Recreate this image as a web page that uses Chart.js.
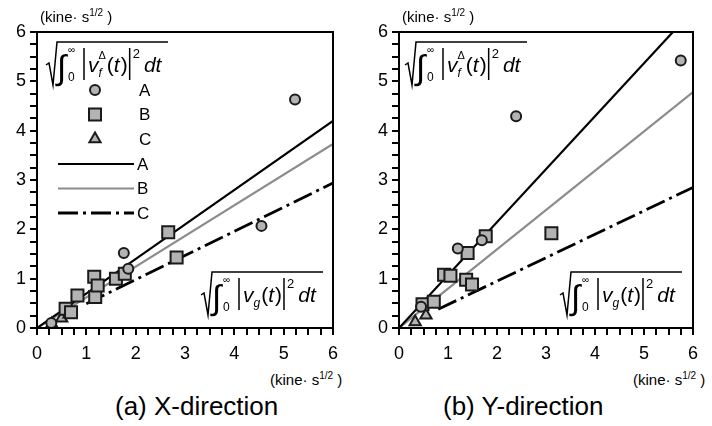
<!DOCTYPE html>
<html>
<head>
<meta charset="utf-8">
<script src="https://cdn.jsdelivr.net/npm/chart.js@4.4.1/dist/chart.umd.min.js"></script>
<style>
    body { margin: 0; background: #fff; font-family: "Liberation Sans", Arial, sans-serif; }
    #wrap { position: relative; width: 712px; height: 426px; }
    .panel { position: absolute; top: 0; width: 356px; height: 368px; }
    .unit { position: absolute; font-size: 15px; color: #000; white-space: nowrap; }
    .unit sup { font-size: 10px; vertical-align: 6px; line-height: 0; }
    .caption { position: absolute; top: 391px; font-size: 26px; color: #000; white-space: nowrap; }
</style>
</head>
<body>
<div id="wrap">
    <div class="panel" style="left:0"><canvas id="chartX"></canvas></div>
    <div class="panel" style="left:356px"><canvas id="chartY"></canvas></div>
    <span class="unit" style="left:40px;top:8px">(kine· s<sup>1/2</sup> )</span>
    <span class="unit" style="left:402px;top:8px">(kine· s<sup>1/2</sup> )</span>
    <span class="unit" style="left:270px;top:371px">(kine· s<sup>1/2</sup> )</span>
    <span class="unit" style="left:633px;top:371px">(kine· s<sup>1/2</sup> )</span>
    <span class="caption" style="left:115px">(a) X-direction</span>
    <span class="caption" style="left:443px">(b) Y-direction</span>
</div>
<script>
// (a) X-direction
const xA_x = [0.29, 1.76, 1.85, 4.55, 5.23];
const xA_y = [0.10, 1.52, 1.20, 2.07, 4.63];
const xB_x = [0.58, 0.69, 0.82, 1.16, 1.18, 1.23, 1.60, 1.78, 2.66, 2.83];
const xB_y = [0.39, 0.32, 0.66, 1.04, 0.63, 0.86, 1.00, 1.10, 1.94, 1.43];
const xC_x = [0.30, 0.50, 0.65];
const xC_y = [0.08, 0.20, 0.28];
const xLineA = [[0, 0], [6, 4.20]];
const xLineB = [[0, 0], [6, 3.73]];
const xLineC = [[1, 0.49], [6, 2.94]];

// (b) Y-direction
const yA_x = [0.45, 1.20, 1.69, 2.39, 5.75];
const yA_y = [0.43, 1.61, 1.78, 4.29, 5.42];
const yB_x = [0.48, 0.71, 0.92, 1.05, 1.37, 1.40, 1.49, 1.77, 3.11];
const yB_y = [0.48, 0.53, 1.08, 1.06, 0.98, 1.52, 0.88, 1.86, 1.92];
const yC_x = [0.33, 0.55];
const yC_y = [0.12, 0.26];
const yLineA = [[0, 0], [5.59, 6]];
const yLineB = [[0, 0], [6, 4.78]];
const yLineC = [[0.8, 0.38], [6, 2.85]];

const axisMin = 0, axisMax = 6, minorStep = 0.25;
const seriesNames = ["A", "B", "C"];

const FILL = "#b3b3b3";
const EDGE = "#1a1a1a";
const GREY_LINE = "#8c8c8c";
const DASHDOT = [20, 5, 3, 5];

function pts(xs, ys) {
    return xs.map((x, i) => ({ x: x, y: ys[i] }));
}

function linePts(arr) {
    return arr.map(p => ({ x: p[0], y: p[1] }));
}

function scatterSet(name, data, style, radius) {
    return {
        type: "scatter", label: name, data: data, order: 0,
        pointStyle: style, pointRadius: radius, pointHoverRadius: radius,
        backgroundColor: FILL, borderColor: EDGE, borderWidth: 2
    };
}

function lineSet(name, data, color, dash, width) {
    return {
        type: "line", label: name, data: data, order: 1,
        borderColor: color, borderWidth: width || 2.2, borderDash: dash || [],
        pointRadius: 0, fill: false, tension: 0, showLine: true
    };
}

// sqrt( int_0^inf |v_sub^sup(t)|^2 dt ) drawn as text
function drawFormula(ctx, x0, y0, sub, sup) {
    const base = y0 + 30;
    ctx.save();
    ctx.fillStyle = "#000";
    ctx.strokeStyle = "#000";
    ctx.lineWidth = 1.5;
    ctx.setLineDash([]);
    ctx.textBaseline = "alphabetic";

    ctx.beginPath();
    ctx.moveTo(x0, base - 7);
    ctx.lineTo(x0 + 3, base - 9);
    ctx.lineTo(x0 + 7, base + 13);
    ctx.lineTo(x0 + 11, y0);
    ctx.lineTo(x0 + 122, y0);
    ctx.stroke();

    let x = x0 + 11;
    ctx.font = '34px "Liberation Sans"';
    ctx.fillText("∫", x, base + 7);
    x += 11;
    ctx.font = '10px "Liberation Sans"';
    ctx.fillText("∞", x, base - 19);
    ctx.font = '12px "Liberation Sans"';
    ctx.fillText("0", x, base + 9);
    x += 16;

    ctx.beginPath();
    ctx.moveTo(x, y0 + 6);
    ctx.lineTo(x, base + 8);
    ctx.stroke();
    x += 4;

    ctx.font = 'italic 21px "Liberation Sans"';
    ctx.fillText("v", x, base);
    x += ctx.measureText("v").width;
    ctx.font = 'italic 12px "Liberation Sans"';
    ctx.fillText(sub, x, base + 5);
    let w = ctx.measureText(sub).width;
    if (sup) {
        ctx.font = '11px "Liberation Sans"';
        ctx.fillText(sup, x, base - 13);
        w = Math.max(w, ctx.measureText(sup).width);
    }
    x += w + 1;

    ctx.font = '21px "Liberation Sans"';
    ctx.fillText("(", x, base);
    x += ctx.measureText("(").width;
    ctx.font = 'italic 21px "Liberation Sans"';
    ctx.fillText("t", x, base);
    x += ctx.measureText("t").width + 1;
    ctx.font = '21px "Liberation Sans"';
    ctx.fillText(")", x, base);
    x += ctx.measureText(")").width + 2;

    ctx.beginPath();
    ctx.moveTo(x, y0 + 6);
    ctx.lineTo(x, base + 8);
    ctx.stroke();
    x += 3;

    ctx.font = '13px "Liberation Sans"';
    ctx.fillText("2", x, base - 14);
    x += ctx.measureText("2").width + 4;

    ctx.font = 'italic 21px "Liberation Sans"';
    ctx.fillText("dt", x, base);
    ctx.restore();
}

function drawMarker(ctx, style, cx, cy) {
    ctx.save();
    ctx.fillStyle = FILL;
    ctx.strokeStyle = EDGE;
    ctx.lineWidth = 2;
    ctx.setLineDash([]);
    ctx.beginPath();
    if (style === "circle") {
        ctx.arc(cx, cy, 5, 0, Math.PI * 2);
    } else if (style === "rect") {
        ctx.rect(cx - 6, cy - 6, 12, 12);
    } else {
        ctx.moveTo(cx, cy - 6.5);
        ctx.lineTo(cx + 5.6, cy + 3.3);
        ctx.lineTo(cx - 5.6, cy + 3.3);
        ctx.closePath();
    }
    ctx.fill();
    ctx.stroke();
    ctx.restore();
}

function drawKey(ctx) {
    const styles = ["circle", "rect", "triangle"];
    ctx.save();
    ctx.font = '17px "Liberation Sans"';
    ctx.fillStyle = "#000";
    ctx.textBaseline = "middle";
    styles.forEach((s, i) => {
        const y = 90 + i * 24.5;
        drawMarker(ctx, s, 95, y);
        ctx.fillText(seriesNames[i], 139, y + 1);
    });
    const lineStyles = [
        { color: "#000", dash: [], w: 2.2 },
        { color: GREY_LINE, dash: [], w: 2.2 },
        { color: "#000", dash: DASHDOT, w: 2.8 }
    ];
    lineStyles.forEach((ls, i) => {
        const y = 164 + i * 24.5;
        ctx.beginPath();
        ctx.strokeStyle = ls.color;
        ctx.lineWidth = ls.w;
        ctx.setLineDash(ls.dash);
        ctx.moveTo(58, y);
        ctx.lineTo(134, y);
        ctx.stroke();
        ctx.setLineDash([]);
        ctx.fillText(seriesNames[i], 137, y + 1);
    });
    ctx.restore();
}

function framePlugin(withKey, offsetX) {
    return {
        id: "frame",
        afterDraw(chart) {
            const a = chart.chartArea;
            const ctx = chart.ctx;
            ctx.save();
            ctx.setLineDash([]);
            ctx.strokeStyle = "#000";
            ctx.lineWidth = 2;
            ctx.strokeRect(a.left, a.top, a.right - a.left, a.bottom - a.top);
            ctx.restore();
            drawFormula(ctx, 46 - offsetX + (withKey ? 0 : 359), 42, "f", "Δ");
            drawFormula(ctx, 201 - offsetX + (withKey ? 0 : 359), 272, "g", "");
            if (withKey) drawKey(ctx);
        }
    };
}

function makeOptions(yWidth, rightPad) {
    const tickFont = { family: "Liberation Sans", size: 18 };
    return {
        responsive: true,
        maintainAspectRatio: false,
        animation: false,
        layout: { padding: { top: 32, right: rightPad, left: 0, bottom: 0 } },
        plugins: { legend: { display: false }, tooltip: { enabled: false } },
        scales: {
            x: {
                type: "linear", min: axisMin, max: axisMax,
                afterFit: s => { s.height = 40; },
                border: { display: true, color: "#000", width: 2 },
                grid: { drawOnChartArea: false, tickLength: 7, color: "#000", lineWidth: 2 },
                ticks: {
                    stepSize: minorStep, autoSkip: false, maxRotation: 0, padding: 8,
                    color: "#000", font: tickFont,
                    callback: v => Number.isInteger(v) ? String(v) : ""
                }
            },
            y: {
                type: "linear", min: axisMin, max: axisMax,
                afterFit: s => { s.width = yWidth; },
                border: { display: true, color: "#000", width: 2 },
                grid: { drawOnChartArea: false, tickLength: 7, color: "#000", lineWidth: 2 },
                ticks: {
                    stepSize: minorStep, autoSkip: false, padding: 4,
                    color: "#000", font: tickFont,
                    callback: v => Number.isInteger(v) ? String(v) : ""
                }
            }
        }
    };
}

new Chart(document.getElementById("chartX"), {
    type: "scatter",
    data: {
        datasets: [
            scatterSet("A", pts(xA_x, xA_y), "circle", 5),
            scatterSet("B", pts(xB_x, xB_y), "rect", 8.5),
            scatterSet("C", pts(xC_x, xC_y), "triangle", 6.5),
            lineSet("A", linePts(xLineA), "#000"),
            lineSet("B", linePts(xLineB), GREY_LINE),
            lineSet("C", linePts(xLineC), "#000", DASHDOT, 2.8)
        ]
    },
    options: makeOptions(37, 23),
    plugins: [framePlugin(true, 0)]
});

new Chart(document.getElementById("chartY"), {
    type: "scatter",
    data: {
        datasets: [
            scatterSet("A", pts(yA_x, yA_y), "circle", 5),
            scatterSet("B", pts(yB_x, yB_y), "rect", 8.5),
            scatterSet("C", pts(yC_x, yC_y), "triangle", 6.5),
            lineSet("A", linePts(yLineA), "#000"),
            lineSet("B", linePts(yLineB), GREY_LINE),
            lineSet("C", linePts(yLineC), "#000", DASHDOT, 2.8)
        ]
    },
    options: makeOptions(43, 19),
    plugins: [framePlugin(false, 356)]
});
</script>
</body>
</html>
